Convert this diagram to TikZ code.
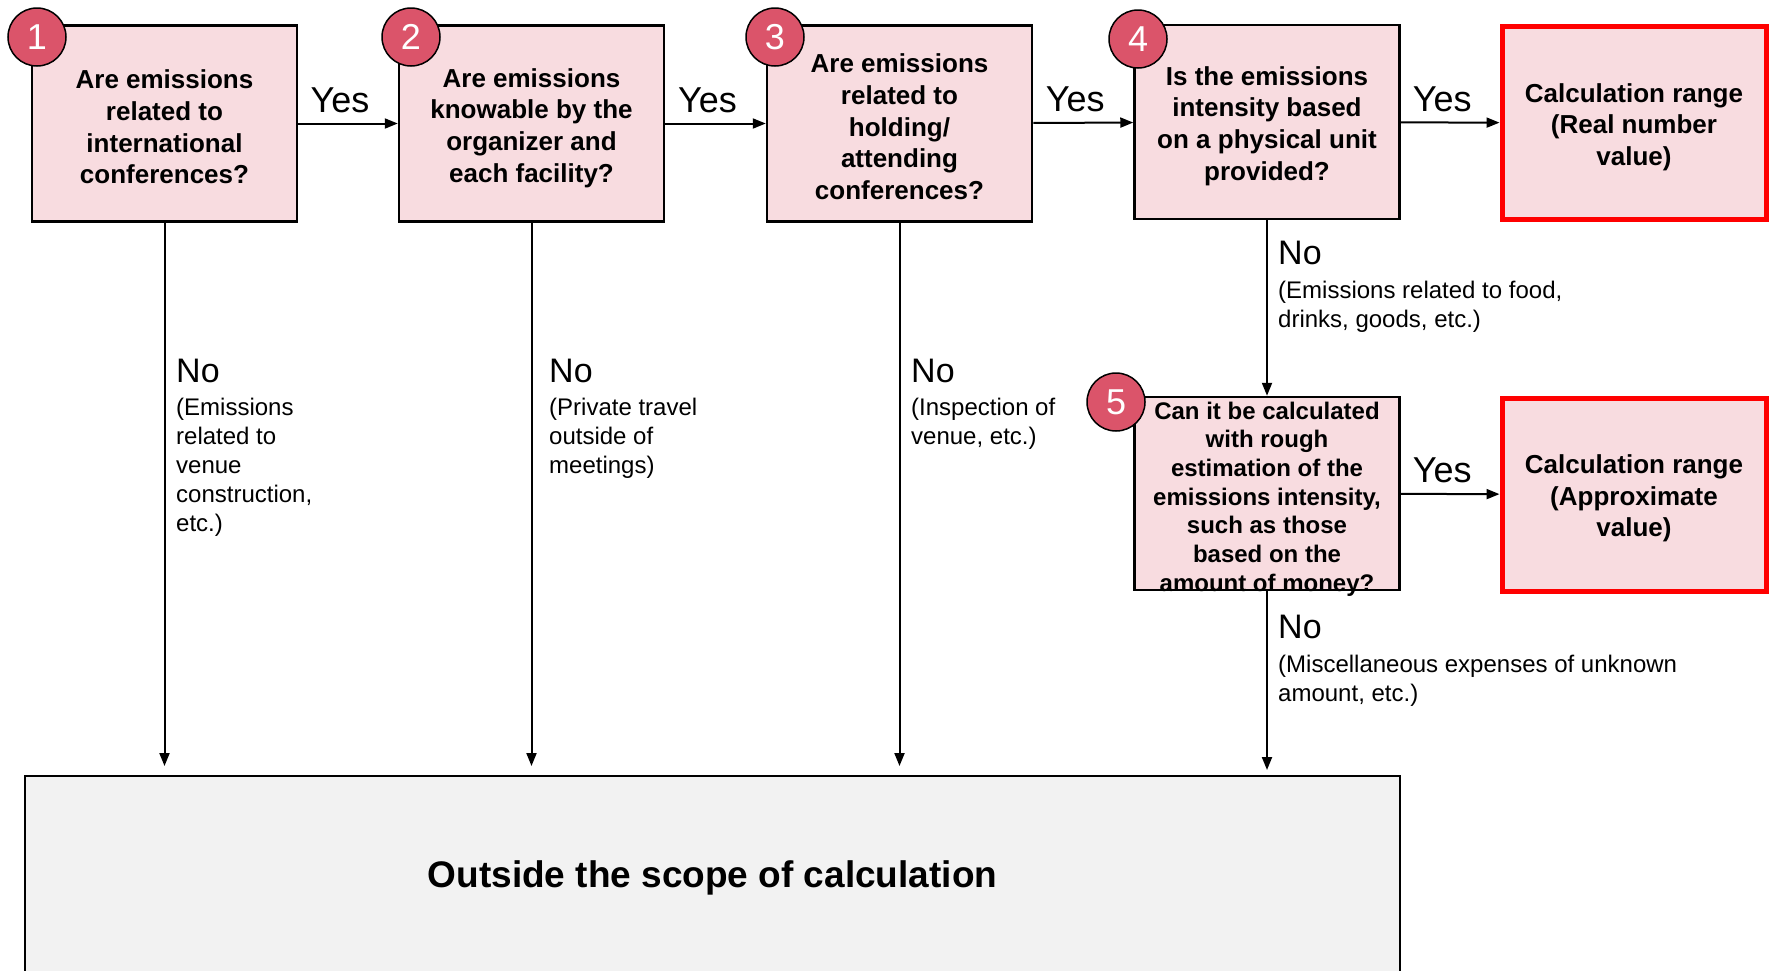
\documentclass[tikz,border=0pt]{standalone}
\usepackage{fontspec}
\setmainfont{Liberation Sans}
\usetikzlibrary{arrows.meta}
\definecolor{boxpink}{RGB}{248,220,224}
\definecolor{numred}{RGB}{219,84,106}
\definecolor{outgray}{RGB}{242,242,242}
\definecolor{hotred}{RGB}{255,0,0}
\tikzset{
  qbox/.style={draw=black, line width=2.5pt, fill=boxpink, minimum width=265pt, minimum height=196pt, inner sep=0pt},
  resbox/.style={draw=hotred, line width=5pt, fill=boxpink, minimum width=264pt, minimum height=193pt, inner sep=0pt},
  qtext/.style={inner sep=0pt, align=center, font=\fontsize{26}{31.7}\selectfont\bfseries},
  numcirc/.style={circle, draw=black, line width=1.5pt, fill=numred, minimum size=58pt, inner sep=0pt, text=white, font=\fontsize{36}{36}\selectfont},
  conn/.style={line width=2pt, -{Triangle[length=13pt,width=10pt]}},
  yeslbl/.style={anchor=south, inner sep=0pt, font=\fontsize{36}{36}\selectfont},
  nolbl/.style={anchor=west, inner sep=0pt, font=\fontsize{34}{34}\selectfont},
  desclbl/.style={anchor=north west, inner sep=0pt, align=left, font=\fontsize{24}{28.9}\selectfont}
}
\begin{document}
\begin{tikzpicture}[x=1pt,y=-1pt]
\useasboundingbox (0,0) rectangle (1777,970);
% bottom box
\node[draw=black, line width=2.5pt, fill=outgray, minimum width=1375pt, minimum height=204pt, inner sep=0pt, font=\fontsize{37}{37}\selectfont\bfseries] (out) at (712.5,878) {Outside the scope of calculation};
% question boxes
\node[qbox] (q1) at (164.5,123.5) {};
\node[qbox] (q2) at (531.5,123.5) {};
\node[qbox] (q3) at (899.5,123.5) {};
\node[qbox, minimum height=194pt] (q4) at (1267,122) {};
\node[qbox, minimum height=193pt] (q5) at (1267,493.5) {};
\node[resbox] (r1) at (1634,123) {};
\node[resbox] (r2) at (1634,494.5) {};
% box texts
\node[qtext] (t1) at (164.5,127) {Are emissions\\related to\\international\\conferences?};
\node[qtext] (t2) at (531.5,128) {Are emissions\\knowable by the\\organizer and\\each facility?};
\node[qtext] (t3) at (899.5,127) {Are emissions\\related to\\holding/\\attending\\conferences?};
\node[qtext] (t4) at (1267,126) {Is the emissions\\intensity based\\on a physical unit\\provided?};
\node[qtext, font=\fontsize{24}{28.7}\selectfont\bfseries] (t5) at (1267,499) {Can it be calculated\\with rough\\estimation of the\\emissions intensity,\\such as those\\based on the\\amount of money?};
\node[qtext] (t6) at (1634,127) {Calculation range\\(Real number\\value)};
\node[qtext] (t7) at (1634,498.5) {Calculation range\\(Approximate\\value)};
% number circles
\node[numcirc] (c1) at (37,37) {1};
\node[numcirc] (c2) at (411,37) {2};
\node[numcirc] (c3) at (775,37) {3};
\node[numcirc] (c4) at (1138,39) {4};
\node[numcirc] (c5) at (1116,402) {5};
% yes arrows
\draw[conn] (q1) -- (q2) node[yeslbl, midway, yshift=10pt, xshift=-8pt] (y1) {Yes};
\draw[conn] (q2) -- (q3) node[yeslbl, midway, yshift=10pt, xshift=-8pt] (y2) {Yes};
\draw[conn] (q3) -- (q4) node[yeslbl, midway, yshift=10pt, xshift=-8pt] (y3) {Yes};
\draw[conn] (q4) -- (r1) node[yeslbl, midway, yshift=10pt, xshift=-8pt] (y4) {Yes};
\draw[conn] (q5) -- (r2) node[yeslbl, midway, yshift=10pt, xshift=-8pt] (y5) {Yes};
% no arrows
\coordinate (e1) at (164.5,766);
\coordinate (e2) at (531.5,766);
\coordinate (e3) at (899.5,766);
\coordinate (e5) at (1267,770);
\draw[conn] (q1.south) -- (e1);
\draw[conn] (q2.south) -- (e2);
\draw[conn] (q3.south) -- (e3);
\draw[conn] (q4.south) -- (q5.north);
\draw[conn] (q5.south) -- (e5);
% no labels
\node[nolbl] (n1) at (176,371) {No};
\node[desclbl] (d1) at (176,398) {(Emissions\\related to\\venue\\construction,\\etc.)};
\node[nolbl] (n2) at (549,371) {No};
\node[desclbl] (d2) at (549,398) {(Private travel\\outside of\\meetings)};
\node[nolbl] (n3) at (911,371) {No};
\node[desclbl] (d3) at (911,398) {(Inspection of\\venue, etc.)};
\node[nolbl] (n4) at (1278,253) {No};
\node[desclbl] (d4) at (1278,281) {(Emissions related to food,\\drinks, goods, etc.)};
\node[nolbl] (n5) at (1278,627) {No};
\node[desclbl] (d5) at (1278,655) {(Miscellaneous expenses of unknown\\amount, etc.)};
\end{tikzpicture}
\end{document}
